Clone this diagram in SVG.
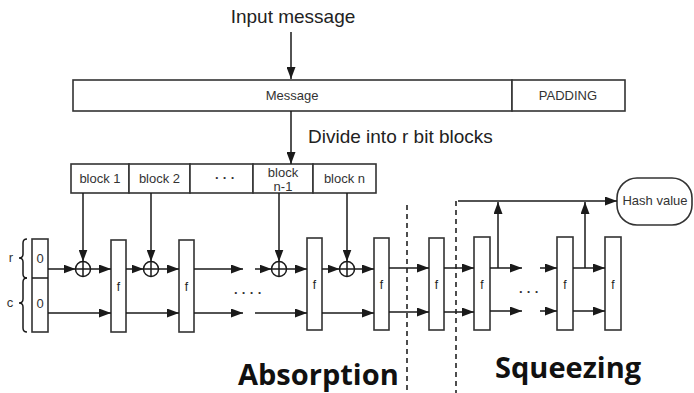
<svg xmlns="http://www.w3.org/2000/svg" width="694" height="393" viewBox="0 0 694 393">
  <defs>
    <marker id="ah" markerWidth="12" markerHeight="9" refX="12" refY="4.5" orient="auto" markerUnits="userSpaceOnUse">
      <path d="M0,0 L12,4.5 L0,9 z" fill="#1a1a1a"/>
    </marker>
    <style>
      .box { fill: #fff; stroke: #333; stroke-width: 1.6; }
      .ln { fill: none; stroke: #1a1a1a; stroke-width: 1.5; }
      .arr { fill: none; stroke: #1a1a1a; stroke-width: 1.5; marker-end: url(#ah); }
      .dash { fill: none; stroke: #222; stroke-width: 1.6; stroke-dasharray: 5 4; }
      .t { font-family: "Liberation Sans", Arial, sans-serif; fill: #222; }
      .sm { font-size: 13px; fill: #333; }
      .big { font-family: "Open Sans", "Liberation Sans", sans-serif; font-weight: bold; font-size: 29px; fill: #111; }
      .xor { fill: #fff; stroke: #1a1a1a; stroke-width: 1.5; }
    </style>
  </defs>

  <!-- headline -->
  <text class="t" x="293" y="23" font-size="19" text-anchor="middle">Input message</text>

  <!-- message + padding bar -->
  <g id="message">
    <rect class="box" x="73" y="80" width="439" height="31"/>
    <text class="t sm" x="292" y="100" text-anchor="middle">Message</text>
  </g>
  <g id="padding">
    <rect class="box" x="512" y="80" width="113" height="31"/>
    <text class="t sm" x="568" y="100" text-anchor="middle">PADDING</text>
  </g>

  <text class="t" x="308" y="143" font-size="19">Divide into r bit blocks</text>

  <!-- message blocks -->
  <g id="block1">
    <rect class="box" x="71" y="164" width="58" height="29"/>
    <text class="t sm" x="100" y="183" text-anchor="middle">block 1</text>
  </g>
  <g id="block2">
    <rect class="box" x="129" y="164" width="61" height="29"/>
    <text class="t sm" x="159.5" y="183" text-anchor="middle">block 2</text>
  </g>
  <g id="block-dots">
    <rect class="box" x="190" y="164" width="63" height="29"/>
    <text class="t sm" x="225" y="182" text-anchor="middle" font-weight="bold">·   ·   ·</text>
  </g>
  <g id="block-n-1">
    <rect class="box" x="253" y="164" width="60" height="29"/>
    <text class="t sm" x="283" y="177" text-anchor="middle">block</text>
    <text class="t sm" x="283" y="191" text-anchor="middle">n-1</text>
  </g>
  <g id="block-n">
    <rect class="box" x="313" y="164" width="63" height="29"/>
    <text class="t sm" x="344.5" y="183" text-anchor="middle">block n</text>
  </g>

  <!-- r / c braces -->
  <g id="braces">
    <path class="ln" d="M27,239 Q23,239 23,243 L23,254 Q23,258 19,258 Q23,258 23,262 L23,274 Q23,278 27,278"/>
    <path class="ln" d="M27,278 Q23,278 23,282 L23,299 Q23,303 19,303 Q23,303 23,307 L23,328 Q23,332 27,332"/>
    <text class="t sm" x="11" y="262" text-anchor="middle">r</text>
    <text class="t sm" x="10" y="307" text-anchor="middle">c</text>
  </g>

  <!-- initial state -->
  <g id="init-state">
    <rect class="box" x="32" y="239" width="16" height="93"/>
    <line class="ln" x1="32" y1="278" x2="48" y2="278"/>
    <text class="t sm" x="40" y="263" text-anchor="middle">0</text>
    <text class="t sm" x="40" y="308" text-anchor="middle">0</text>
  </g>

  <!-- permutation boxes -->
  <g id="f1"><rect class="box" x="111" y="240" width="15" height="92"/><text class="t" font-size="12" x="118.5" y="291" text-anchor="middle">f</text></g>
  <g id="f2"><rect class="box" x="179" y="240" width="15" height="92"/><text class="t" font-size="12" x="186.5" y="291" text-anchor="middle">f</text></g>
  <g id="f3"><rect class="box" x="307" y="238" width="15" height="92"/><text class="t" font-size="12" x="314.5" y="289" text-anchor="middle">f</text></g>
  <g id="f4"><rect class="box" x="374" y="238" width="15" height="92"/><text class="t" font-size="12" x="381.5" y="289" text-anchor="middle">f</text></g>
  <g id="f5"><rect class="box" x="429" y="238" width="15" height="92"/><text class="t" font-size="12" x="436.5" y="289" text-anchor="middle">f</text></g>
  <g id="f6"><rect class="box" x="474" y="237" width="16" height="93"/><text class="t" font-size="12" x="482" y="289" text-anchor="middle">f</text></g>
  <g id="f7"><rect class="box" x="557" y="237" width="16" height="93"/><text class="t" font-size="12" x="565" y="289" text-anchor="middle">f</text></g>
  <g id="f8"><rect class="box" x="605" y="237" width="16" height="93"/><text class="t" font-size="12" x="613" y="289" text-anchor="middle">f</text></g>

  <!-- XOR nodes -->
  <g id="xor1"><circle class="xor" cx="83" cy="269" r="7.5"/><path class="ln" d="M75.5,269 H90.5 M83,261.5 V276.5"/></g>
  <g id="xor2"><circle class="xor" cx="151" cy="269" r="7.5"/><path class="ln" d="M143.5,269 H158.5 M151,261.5 V276.5"/></g>
  <g id="xor3"><circle class="xor" cx="279" cy="269" r="7.5"/><path class="ln" d="M271.5,269 H286.5 M279,261.5 V276.5"/></g>
  <g id="xor4"><circle class="xor" cx="347" cy="269" r="7.5"/><path class="ln" d="M339.5,269 H354.5 M347,261.5 V276.5"/></g>

  <!-- hash output -->
  <g id="hash-value">
    <rect class="box" x="617" y="178" width="75" height="47" rx="20" ry="20"/>
    <text class="t sm" x="655" y="205" text-anchor="middle">Hash value</text>
  </g>

  <!-- connectors -->
  <g id="connectors">
    <line class="arr" x1="291" y1="32" x2="291" y2="79"/>
    <line class="arr" x1="291" y1="111" x2="291" y2="164"/>

    <line class="arr" x1="83" y1="193" x2="83" y2="261.5"/>
    <line class="arr" x1="151" y1="193" x2="151" y2="261.5"/>
    <line class="arr" x1="279" y1="193" x2="279" y2="261.5"/>
    <line class="arr" x1="347" y1="193" x2="347" y2="261.5"/>

    <!-- rate lane -->
    <line class="arr" x1="48" y1="269" x2="75.5" y2="269"/>
    <line class="arr" x1="90.5" y1="269" x2="111" y2="269"/>
    <line class="arr" x1="126" y1="269" x2="143.5" y2="269"/>
    <line class="arr" x1="158.5" y1="269" x2="179" y2="269"/>
    <line class="arr" x1="194" y1="269" x2="243" y2="269"/>
    <line class="arr" x1="255" y1="269" x2="271.5" y2="269"/>
    <line class="arr" x1="286.5" y1="269" x2="307" y2="269"/>
    <line class="arr" x1="322" y1="269" x2="339.5" y2="269"/>
    <line class="arr" x1="354.5" y1="269" x2="374" y2="269"/>
    <line class="arr" x1="389" y1="268" x2="429" y2="268"/>
    <line class="arr" x1="444" y1="268" x2="474" y2="268"/>
    <line class="arr" x1="490" y1="268" x2="522" y2="268"/>
    <line class="arr" x1="540" y1="268" x2="557" y2="268"/>
    <line class="arr" x1="573" y1="268" x2="605" y2="268"/>

    <!-- capacity lane -->
    <line class="arr" x1="48" y1="313" x2="111" y2="313"/>
    <line class="arr" x1="126" y1="313" x2="179" y2="313"/>
    <line class="arr" x1="194" y1="313" x2="243" y2="313"/>
    <line class="arr" x1="255" y1="313" x2="307" y2="313"/>
    <line class="arr" x1="322" y1="313" x2="374" y2="313"/>
    <line class="arr" x1="389" y1="312" x2="429" y2="312"/>
    <line class="arr" x1="444" y1="312" x2="474" y2="312"/>
    <line class="arr" x1="490" y1="311" x2="522" y2="311"/>
    <line class="arr" x1="540" y1="311" x2="557" y2="311"/>
    <line class="arr" x1="573" y1="311" x2="605" y2="311"/>

    <!-- squeezed output -->
    <line class="arr" x1="498" y1="268" x2="498" y2="202"/>
    <line class="arr" x1="585" y1="268" x2="585" y2="202"/>
    <line class="arr" x1="458" y1="201" x2="617" y2="201"/>
  </g>

  <!-- elided rounds -->
  <text class="t sm" x="248" y="297" text-anchor="middle" font-weight="bold">·  ·  ·  ·</text>
  <text class="t sm" x="529" y="296" text-anchor="middle" font-weight="bold">·   ·   ·</text>

  <!-- phase separators -->
  <line class="dash" x1="407" y1="205" x2="407" y2="393"/>
  <line class="dash" x1="456" y1="201" x2="456" y2="393"/>

  <text class="big" x="238" y="385">Absorption</text>
  <text class="big" x="495" y="378">Squeezing</text>
</svg>
